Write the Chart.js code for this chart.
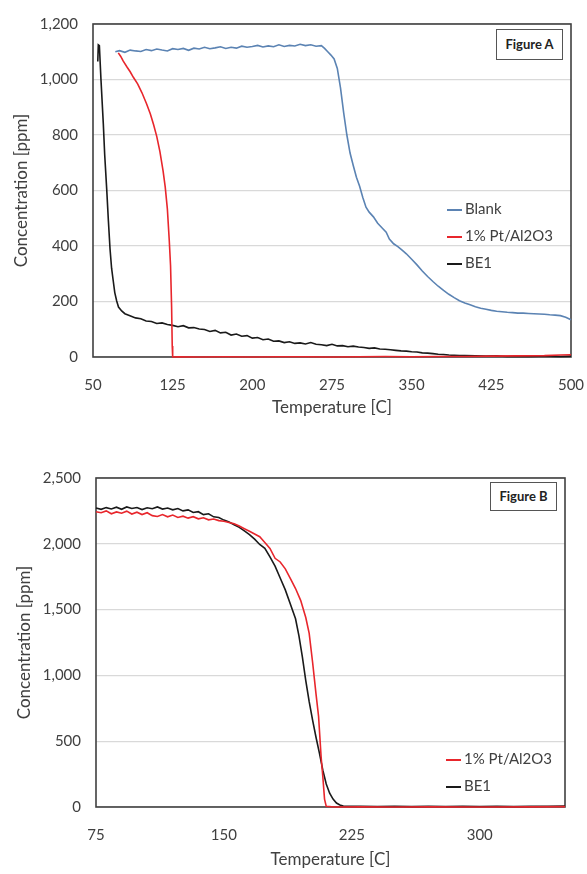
<!DOCTYPE html>
<html>
<head>
<meta charset="utf-8">
<script src="https://cdn.jsdelivr.net/npm/chart.js@4.4.0/dist/chart.umd.min.js"></script>
<style>
  body { margin: 0; background: #fff; font-family: Lato, "Open Sans", sans-serif; }
  #page { position: relative; width: 587px; height: 874px; overflow: hidden; }
  canvas { position: absolute; left: 0; }
  .fig { position: absolute; border: 1.5px solid #555; box-sizing: border-box; background: #fff;
         font-weight: bold; font-size: 13px; color: #222; text-align: center; }
  .legend div { position: absolute; white-space: nowrap; height: 20px; line-height: 20px;
                font-size: 15px; color: #404040; }
  .legend span { display: inline-block; width: 15px; height: 2px; vertical-align: middle; margin-right: 3px; }
</style>
</head>
<body>
<div id="page">
  <canvas id="chartA" width="587" height="430" style="top:0"></canvas>
  <canvas id="chartB" width="587" height="434" style="top:440px"></canvas>
  <div class="fig" style="left:496px;top:29px;width:67px;height:31px;line-height:28px">Figure A</div>
  <div class="fig" style="left:490px;top:482px;width:67px;height:29px;line-height:26px">Figure B</div>
  <div class="legend" id="legendA"></div>
  <div class="legend" id="legendB"></div>
</div>
<script>
// Figure A - temperatures [C] and concentrations [ppm]
const tempBlankA = [71,75,80,85,90,95,100,105,110,115,120,125,130,135,140,145,150,155,160,165,170,175,180,185,190,195,200,205,210,215,220,225,230,235,240,245,250,255,260,265,268,271,274,277,280,283,286,289,292,295,298,301,304,307,310,314,318,322,326,329,333,337,341,345,350,355,360,365,370,375,380,385,390,395,400,405,410,415,420,425,430,435,440,445,450,455,460,465,470,475,480,485,490,495,500];
const concBlankA = [1100,1104,1098,1106,1103,1101,1108,1104,1110,1106,1103,1111,1108,1112,1105,1113,1110,1116,1111,1114,1118,1112,1116,1113,1120,1116,1119,1123,1117,1121,1118,1125,1119,1123,1121,1127,1122,1125,1120,1122,1112,1100,1088,1074,1040,970,880,800,735,690,648,615,575,540,522,505,482,466,450,425,408,398,385,372,352,332,310,290,272,255,240,226,214,203,195,188,181,176,172,168,165,163,161,160,158,158,157,156,155,154,152,151,149,143,134];

const tempPtA = [73.8,76,78.5,82,85,88,92,96,100.5,104,107,110,113,116,118,120,121.8,123,124,124.6,125,130,150,175,200,225,250,275,300,325,350,375,400,425,450,475,490,500];
const concPtA = [1096,1084,1066,1045,1028,1008,984,953,912,876,838,795,740,670,612,534,420,330,180,40,0,1,0,1,0,1,1,0,1,2,1,2,2,3,4,5,7,8];

const tempBe1A = [54.5,55,56,57.5,59.7,61,62.9,64.5,66,67.5,69.1,70.5,72.3,74,77,80,84.8,90,95,100,105,110,115,120,125,130,135,140,145,150,155,160,165,170,175,180,185,190,195,200,205,210,215,220,225,230,235,240,245,250,255,260,265,270,275,280,285,290,295,300,305,310,315,320,325,330,335,340,345,350,355,360,365,370,375,380,385,390,395,400,410,420,430,440,450,460,470,480,490,500];
const concBe1A = [1065,1125,1122,1000,841,730,605,490,391,320,273,232,202,180,166,156,149,141,138,130,128,121,123,117,114,109,113,105,106,101,99,92,96,87,89,79,83,75,77,68,70,62,65,57,58,52,55,49,51,47,52,46,44,41,46,40,41,37,39,36,34,31,33,29,28,26,24,22,21,19,18,15,14,12,10,9,7,6,5,5,4,3,4,2,3,2,3,3,2,3];

// Figure B
const tempPtB = [75,78,81,84,87,90,93,96,99,102,105,108,111,114,117,120,123,126,129,132,135,138,141,144,147,150,153,156,159,162,165,168,171,174,177,180,183,186,189,192,195,198,200,202,204,205.5,207,208,209,210,215,230,250,270,300,330,350];
const concPtB = [2244,2236,2250,2228,2242,2232,2248,2226,2240,2222,2236,2214,2208,2222,2205,2218,2200,2210,2195,2206,2190,2198,2182,2188,2176,2172,2162,2152,2135,2115,2095,2075,2054,2010,1965,1890,1862,1810,1735,1660,1570,1440,1320,1100,860,690,380,230,60,5,0,1,0,1,0,1,3];

const tempBe1B = [75,78,81,84,87,90,93,96,99,102,105,108,111,114,117,120,123,126,129,132,135,138,141,144,147,150,153,156,159,162,165,168,171,174,177,180,183,186,189,192,194,196,198,200,202,204,206,208,210,212,214,216,218,220,225,230,240,250,260,270,280,290,300,310,320,330,340,350];
const concBe1B = [2272,2262,2275,2265,2278,2262,2280,2268,2276,2260,2274,2266,2280,2264,2272,2258,2268,2250,2258,2238,2244,2222,2228,2205,2200,2180,2165,2145,2125,2098,2070,2035,1995,1965,1900,1830,1740,1650,1540,1430,1300,1140,960,800,660,530,410,280,175,105,60,30,15,8,5,6,4,6,3,5,4,6,4,5,3,5,6,8];

// axis ticks
const xTicksA = [50,125,200,275,350,425,500];
const yTicksA = [0,200,400,600,800,1000,1200];
const xTicksB = [75,150,225,300];
const yTicksB = [0,500,1000,1500,2000,2500];

const labelBlank = 'Blank';
const labelPt = '1% Pt/Al2O3';
const labelBe1 = 'BE1';

const colBlank = '#5b83b3';
const colPt = '#e8262c';
const colBe1 = '#1a1a1a';
const textCol = '#404040';

function toPoints(xs, ys) {
  return xs.map((x, i) => ({ x: x, y: ys[i] }));
}

function lineSet(label, xs, ys, color) {
  return {
    label: label,
    data: toPoints(xs, ys),
    borderColor: color,
    backgroundColor: color,
    borderWidth: 1.6,
    pointRadius: 0,
    showLine: true,
    tension: 0,
    clip: 4
  };
}

// frame round the plot area
const framePlugin = {
  id: 'frame',
  beforeDatasetsDraw(chart) {
    const { ctx, chartArea: a } = chart;
    ctx.save();
    ctx.strokeStyle = '#404040';
    ctx.lineWidth = 1.6;
    ctx.strokeRect(a.left, a.top, a.right - a.left, a.bottom - a.top);
    ctx.restore();
  }
};

function makeChart(id, datasets, cfg) {
  return new Chart(document.getElementById(id), {
    type: 'scatter',
    data: { datasets: datasets },
    options: {
      responsive: false,
      animation: false,
      devicePixelRatio: 1,
      layout: { padding: { left: 0, right: cfg.padRight, top: cfg.padTop, bottom: 0 } },
      plugins: { legend: { display: false }, tooltip: { enabled: false } },
      scales: {
        x: {
          type: 'linear',
          min: cfg.xMin, max: cfg.xMax,
          afterBuildTicks: s => { s.ticks = cfg.xTicks.map(v => ({ value: v })); },
          afterFit: s => { s.height = cfg.xHeight; s.paddingLeft = 0; s.paddingRight = 0; },
          grid: { display: false, drawTicks: false },
          border: { display: false },
          ticks: { padding: 19, color: textCol, font: { family: 'Lato', size: 15 }, maxRotation: 0 },
          title: { display: true, text: 'Temperature [C]', color: textCol,
                   font: { family: 'Lato', size: 17 }, padding: { top: 0, bottom: cfg.xTitlePad } }
        },
        y: {
          min: 0, max: cfg.yMax,
          afterBuildTicks: s => { s.ticks = cfg.yTicks.map(v => ({ value: v })); },
          afterFit: s => { s.width = cfg.yWidth; },
          grid: { color: '#d9d9d9', lineWidth: 1.2, drawTicks: false },
          border: { display: false },
          ticks: { padding: 15, color: textCol, font: { family: 'Lato', size: 15 },
                   callback: v => v.toLocaleString('en-US') },
          title: { display: true, text: 'Concentration [ppm]', color: textCol,
                   font: { family: 'Lato', size: 17 }, padding: { top: cfg.yTitlePad, bottom: 0 } }
        }
      }
    },
    plugins: [framePlugin]
  });
}

const chartA = makeChart('chartA', [
  lineSet(labelBlank, tempBlankA, concBlankA, colBlank),
  lineSet(labelPt, tempPtA, concPtA, colPt),
  lineSet(labelBe1, tempBe1A, concBe1A, colBe1)
], { xMin: 50, xMax: 500, yMax: 1200, xTicks: xTicksA, yTicks: yTicksA,
     padTop: 19, padRight: 16, yWidth: 93, xHeight: 73, xTitlePad: 12, yTitlePad: 11 });

const chartB = makeChart('chartB', [
  lineSet(labelPt, tempPtB, concPtB, colPt),
  lineSet(labelBe1, tempBe1B, concBe1B, colBe1)
], { xMin: 75, xMax: 350, yMax: 2500, xTicks: xTicksB, yTicks: yTicksB,
     padTop: 38, padRight: 22, yWidth: 96, xHeight: 67, xTitlePad: 4, yTitlePad: 14 });

// legends built from the datasets
function buildLegend(chart, elId, left, firstRow, step) {
  const el = document.getElementById(elId);
  chart.data.datasets.forEach((ds, i) => {
    const row = document.createElement('div');
    row.style.left = left + 'px';
    row.style.top = (firstRow + i * step - 10) + 'px';
    row.innerHTML = '<span style="background:' + ds.borderColor + '"></span>' + ds.label;
    el.appendChild(row);
  });
}
buildLegend(chartA, 'legendA', 447, 208, 27);
buildLegend(chartB, 'legendB', 446, 758, 27);
</script>
</body>
</html>
